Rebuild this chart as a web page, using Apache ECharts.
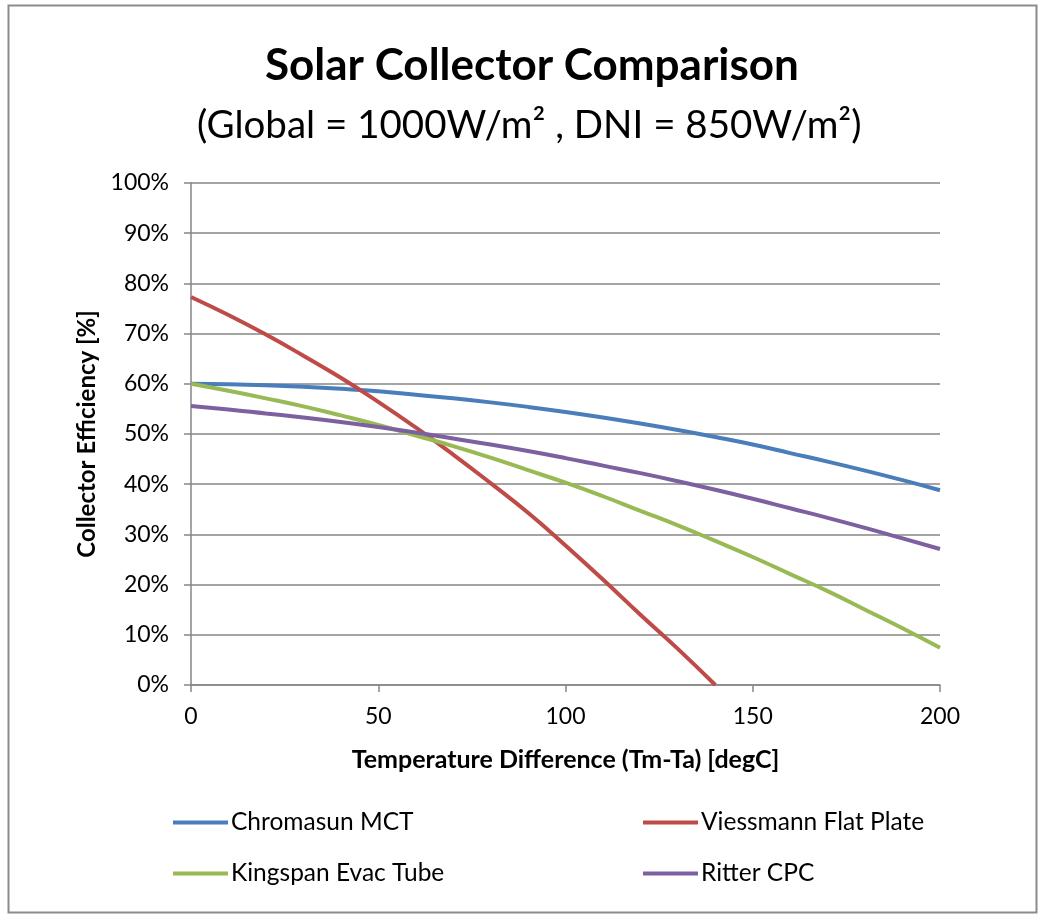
<!DOCTYPE html>
<html><head><meta charset="utf-8">
<script src="https://cdn.jsdelivr.net/npm/echarts@6/dist/echarts.min.js"></script>
<style>html,body{margin:0;padding:0;background:#fff}#c{width:1040px;height:917px}</style>
</head><body><div id="c"></div>
<script>
const temps = [0,10,20,30,40,50,60,70,80,90,100,110,120,130,140,150,160,170,180,190,200];
const chromasun = [60.0,59.9,59.7,59.4,59.0,58.5,57.8,57.1,56.3,55.4,54.4,53.3,52.1,50.8,49.4,47.9,46.2,44.5,42.7,40.8,38.8];
const viessmannT = [0,10,20,30,40,50,60,70,80,90,100,110,120,130,140];
const viessmann = [77.3,73.7,69.8,65.6,61.2,56.4,51.3,45.9,40.2,34.3,27.8,21.0,14.0,7.2,0];
const kingspan = [60.0,58.6,57.1,55.5,53.7,51.8,49.7,47.6,45.3,42.8,40.3,37.6,34.7,31.8,28.7,25.5,22.1,18.7,15.0,11.3,7.4];
const ritter = [55.6,54.9,54.1,53.3,52.4,51.4,50.3,49.1,47.9,46.6,45.2,43.7,42.2,40.6,38.9,37.1,35.2,33.3,31.3,29.2,27.1];
const seriesNames = ['Chromasun MCT','Viessmann Flat Plate','Kingspan Evac Tube','Ritter CPC'];
const xTicks = [0,50,100,150,200];
const yTicks = [0,10,20,30,40,50,60,70,80,90,100];

const FONT = 'Lato';
const pair = (xs, ys) => xs.map((x,i)=>[x, ys[i]]);
const colors = ['#4a7ebb','#be4b48','#98b954','#7d60a0'];
const mk = (name, data, color) => ({
  name, type:'line', data, smooth:true, symbol:'none',
  lineStyle:{width:4, color}, itemStyle:{color}
});
const legendCommon = {
  orient:'vertical', itemWidth:55, itemHeight:4, itemGap:26, icon:'rect', padding:0,
  textStyle:{fontFamily:FONT, fontSize:24.5, lineHeight:24, color:'#000', padding:[0,0,0,-2]}
};
const chart = echarts.init(document.getElementById('c'), null, {renderer:'canvas'});
chart.setOption({
  animation:false,
  backgroundColor:'#fff',
  graphic:[{type:'rect', shape:{x:8.5,y:5.5,width:1028,height:907}, style:{fill:'none', stroke:'#8c8c8c', lineWidth:2}}],
  title:[
    {text:'Solar Collector Comparison', left:265, top:44, padding:0, textStyle:{fontFamily:FONT, fontWeight:'bold', fontSize:44, color:'#000'}},
    {text:'(Global = 1000W/m² , DNI = 850W/m²)', left:197, top:106, padding:0, textStyle:{fontFamily:FONT, fontWeight:'normal', fontSize:38.5, color:'#000'}}
  ],
  grid:{left:191, right:100, top:183, bottom:232, containLabel:false},
  xAxis:{
    type:'value', min:xTicks[0], max:xTicks[xTicks.length-1], interval:50,
    name:'Temperature Difference (Tm-Ta) [degC]', nameLocation:'middle', nameGap:62,
    nameTextStyle:{fontFamily:FONT, fontWeight:'bold', fontSize:25, color:'#000'},
    axisLine:{show:true, lineStyle:{color:'#868686', width:1.5}},
    axisTick:{show:true, length:7, lineStyle:{color:'#868686', width:1.5}},
    axisLabel:{fontFamily:FONT, fontSize:23, color:'#000', margin:20},
    splitLine:{show:false}
  },
  yAxis:{
    type:'value', min:yTicks[0], max:yTicks[yTicks.length-1], interval:10,
    name:'Collector Efficiency [%]', nameLocation:'middle', nameGap:92,
    nameTextStyle:{fontFamily:FONT, fontWeight:'bold', fontSize:24, color:'#000'},
    axisLine:{show:true, lineStyle:{color:'#868686', width:1.5}},
    axisTick:{show:true, length:7, lineStyle:{color:'#868686', width:1.5}},
    axisLabel:{fontFamily:FONT, fontSize:23, color:'#000', margin:22, formatter:'{value}%'},
    splitLine:{show:true, lineStyle:{color:'#868686', width:1.5}}
  },
  legend:[
    Object.assign({left:173, top:810, data:[seriesNames[0], seriesNames[2]]}, legendCommon),
    Object.assign({left:643, top:810, data:[seriesNames[1], seriesNames[3]]}, legendCommon)
  ],
  series:[
    mk(seriesNames[0], pair(temps, chromasun), colors[0]),
    mk(seriesNames[1], pair(viessmannT, viessmann), colors[1]),
    mk(seriesNames[2], pair(temps, kingspan), colors[2]),
    mk(seriesNames[3], pair(temps, ritter), colors[3])
  ]
});
</script></body></html>
